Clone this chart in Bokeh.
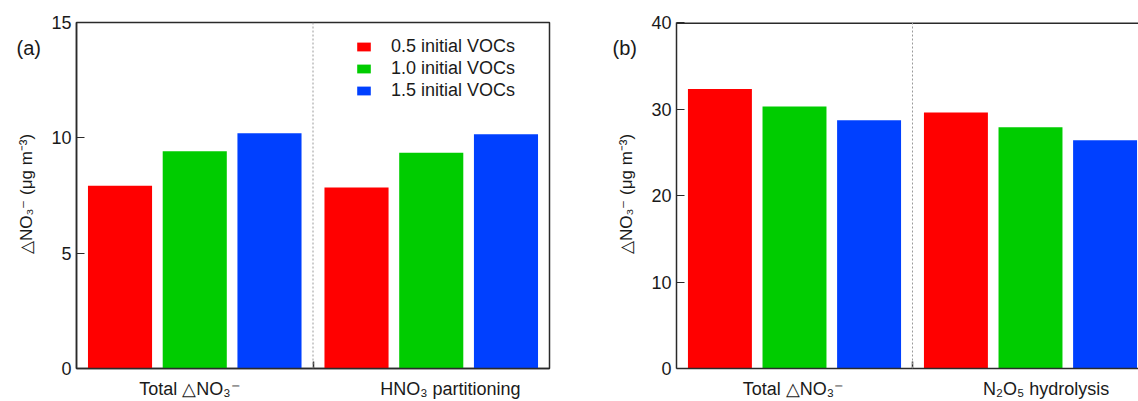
from bokeh.plotting import figure
from bokeh.models import (ColumnDataSource, FixedTicker, Span, Label, LinearAxis,
                          Range1d, Legend, LegendItem)
from bokeh.transform import dodge
from bokeh.layouts import row
from bokeh.embed import file_html
from bokeh.resources import INLINE

# ---------------- data ----------------
group_x = [0.5, 1.5]
a_categories = ["Total \u25b3NO\u2083\u207b", "HNO\u2083 partitioning"]
b_categories = ["Total \u25b3NO\u2083\u207b", "N\u2082O\u2085 hydrolysis"]
series_names = ["0.5 initial VOCs", "1.0 initial VOCs", "1.5 initial VOCs"]
series_colors = ["#FF0000", "#00CC00", "#0040FF"]

a_voc05 = [7.92, 7.85]
a_voc10 = [9.42, 9.35]
a_voc15 = [10.20, 10.15]

b_voc05 = [32.3, 29.6]
b_voc10 = [30.3, 27.9]
b_voc15 = [28.7, 26.4]

a_yticks = [0, 5, 10, 15]
b_yticks = [0, 10, 20, 30, 40]

FONT = "Liberation Sans"
TXT = "#1a1a1a"
AX = "#2a2a2a"
YLABEL = "\u25b3NO\u2083\u207b (\u03bcg m\u207b\u00b3)"


def make_panel(width, ymax, yticks, vals, cats, cat_x, tag, xmax,
               border_left, border_right, with_legend, outline):
    p = figure(width=width, height=401, x_range=Range1d(0, xmax),
               y_range=Range1d(0, ymax), output_backend="svg",
               toolbar_location=None, x_axis_location=None, y_axis_location=None,
               min_border_left=border_left, min_border_right=border_right,
               min_border_top=22, min_border_bottom=33)
    p.grid.visible = False
    p.background_fill_color = "white"
    p.border_fill_color = "white"
    if outline:
        p.outline_line_color = AX
        p.outline_line_width = 1.5
    else:
        p.outline_line_color = None
        p.add_layout(Span(location=ymax, dimension="width", line_color=AX,
                          line_width=3))

    yaxis = LinearAxis(ticker=FixedTicker(ticks=yticks))
    yaxis.axis_line_color = AX
    yaxis.axis_line_width = 1.5
    yaxis.major_tick_in = 8
    yaxis.major_tick_out = 0
    yaxis.major_tick_line_color = AX
    yaxis.major_tick_line_width = 1.2
    yaxis.minor_tick_line_color = None
    yaxis.major_label_standoff = 5
    yaxis.major_label_text_font = FONT
    yaxis.major_label_text_font_size = "18px"
    yaxis.major_label_text_color = TXT
    yaxis.axis_label = YLABEL
    yaxis.axis_label_text_font = FONT
    yaxis.axis_label_text_font_size = "17px"
    yaxis.axis_label_text_font_style = "normal"
    yaxis.axis_label_text_color = TXT
    yaxis.axis_label_standoff = 12
    p.add_layout(yaxis, "left")

    # bottom axis: category labels at major ticks, divider tick as a minor tick
    xaxis = LinearAxis(ticker=FixedTicker(ticks=cat_x, minor_ticks=[1.0]))
    xaxis.axis_line_color = AX
    xaxis.axis_line_width = 1.5
    xaxis.major_tick_line_color = None
    xaxis.major_tick_in = 0
    xaxis.major_tick_out = 0
    xaxis.minor_tick_in = 7
    xaxis.minor_tick_out = 0
    xaxis.minor_tick_line_color = AX
    xaxis.minor_tick_line_width = 1.5
    xaxis.major_label_overrides = {cx: txt for cx, txt in zip(cat_x, cats)}
    xaxis.major_label_standoff = 10
    xaxis.major_label_text_font = FONT
    xaxis.major_label_text_font_size = "18px"
    xaxis.major_label_text_color = TXT
    p.add_layout(xaxis, "below")

    p.add_layout(Span(location=1.0, dimension="height", line_color="#9a9a9a",
                      line_width=1, line_dash="2 2"))

    src = ColumnDataSource(dict(x=group_x, v0=vals[0], v1=vals[1], v2=vals[2]))
    offsets = [-0.316, 0.0, 0.316]
    items = []
    for i, col in enumerate(["v0", "v1", "v2"]):
        r = p.vbar(x=dodge("x", offsets[i]), top=col, bottom=0, width=0.271,
                   source=src, fill_color=series_colors[i], line_color=None)
        items.append(LegendItem(label=series_names[i], renderers=[r]))

    if with_legend:
        leg = Legend(items=items, location=(279, 267))
        leg.border_line_color = None
        leg.background_fill_alpha = 0
        leg.padding = 0
        leg.margin = 0
        leg.spacing = 0
        leg.glyph_width = 17
        leg.glyph_height = 11
        leg.label_height = 22
        leg.label_standoff = 19
        leg.label_text_font = FONT
        leg.label_text_font_size = "18px"
        leg.label_text_color = TXT
        p.add_layout(leg, "center")

    # panel tag placed in the top side panel (not clipped by the frame)
    p.add_layout(Label(x=tag[0], y=tag[1], x_units="screen", y_units="screen",
                       text=tag[2], text_align="left", text_baseline="middle",
                       text_font=FONT, text_font_size="20px", text_color=TXT),
                 "above")
    return p


pa = make_panel(600, 15, a_yticks, [a_voc05, a_voc10, a_voc15], a_categories,
                [0.471, 1.581], (-60, -25, "(a)"), 2.0, 76, 51, True, True)
pb = make_panel(538, 40, b_yticks, [b_voc05, b_voc10, b_voc15], b_categories,
                [0.487, 1.566], (-64, -25, "(b)"), 462 / 236.0, 76, 0, False, False)

layout = row(pa, pb)
open("out.html", "w").write(file_html(layout, INLINE))
